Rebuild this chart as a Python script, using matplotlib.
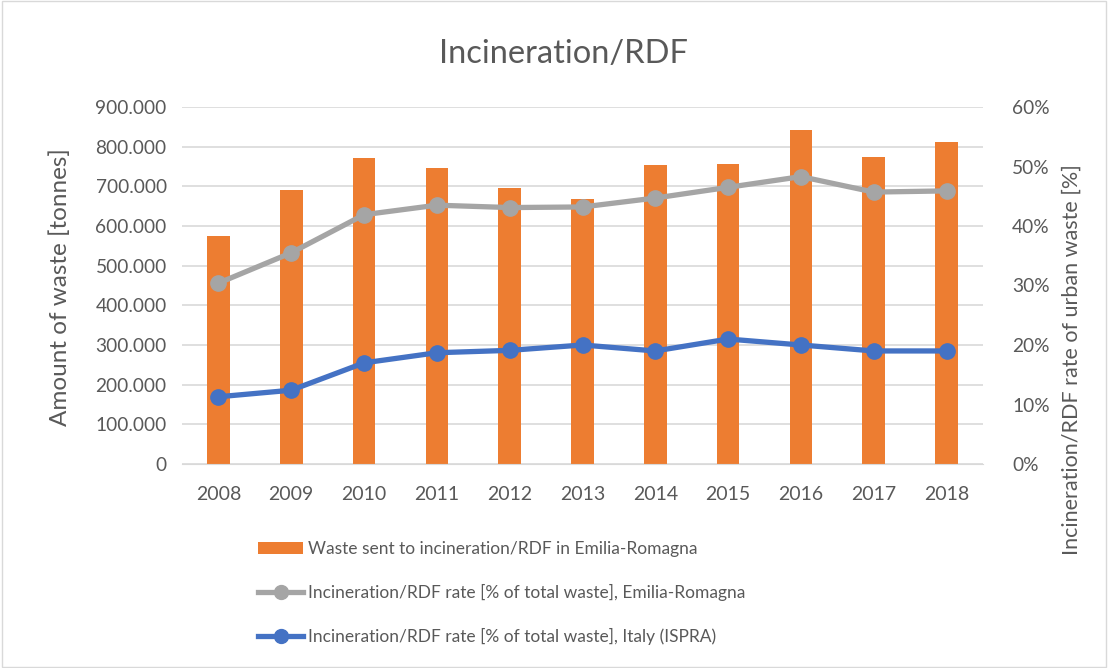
import matplotlib
matplotlib.use("Agg")
import matplotlib.pyplot as plt
from matplotlib.ticker import FuncFormatter, PercentFormatter
from matplotlib.patches import Rectangle

plt.rcParams['font.family'] = ['Lato', 'DejaVu Sans']

years = ["2008", "2009", "2010", "2011", "2012", "2013", "2014", "2015", "2016", "2017", "2018"]
waste_tonnes = [576000, 690000, 772000, 747000, 695000, 669000, 753000, 757000, 842000, 773000, 812000]
rate_er = [30.4, 35.5, 41.9, 43.5, 43.1, 43.2, 44.7, 46.5, 48.3, 45.7, 45.9]
rate_it = [11.3, 12.4, 17.0, 18.7, 19.1, 20.0, 19.0, 21.0, 20.0, 19.0, 19.0]

label_bar = "Waste sent to incineration/RDF in Emilia-Romagna"
label_er = "Incineration/RDF rate [% of total waste], Emilia-Romagna"
label_it = "Incineration/RDF rate [% of total waste], Italy (ISPRA)"

W, H = 1108, 668
fig = plt.figure(figsize=(W / 100, H / 100), dpi=100)
fig.patches.append(Rectangle((0.002, 0.002), 0.996, 0.996, transform=fig.transFigure,
                             fill=False, edgecolor='#d9d9d9', linewidth=1))

ax = fig.add_axes([182 / W, 1 - 464 / H, (983 - 182) / W, (464 - 107) / H])
ax2 = ax.twinx()

x = list(range(len(years)))
bars = ax.bar(x, waste_tonnes, width=0.31, color='#ED7D31', zorder=2, label=label_bar)
l1, = ax2.plot(x, rate_er, color='#A5A5A5', lw=3.8, marker='o', ms=11, label=label_er, zorder=3)
l2, = ax2.plot(x, rate_it, color='#4472C4', lw=3.8, marker='o', ms=11, label=label_it, zorder=3)

ax.set_xlim(-0.5, len(years) - 0.5)
ax.set_ylim(0, 900000)
ax.set_yticks(range(0, 900001, 100000))
ax.yaxis.set_major_formatter(FuncFormatter(lambda v, p: "0" if v == 0 else f"{int(v):,}".replace(",", ".")))
ax2.set_ylim(0, 60)
ax2.set_yticks(range(0, 61, 10))
ax2.yaxis.set_major_formatter(PercentFormatter(decimals=0))

ax.set_xticks(x)
ax.set_xticklabels(years)
ax.grid(axis='y', color='#d9d9d9', lw=1.2, zorder=0)
ax.set_axisbelow(True)
for a in (ax, ax2):
    for s in a.spines.values():
        s.set_visible(False)
    a.tick_params(length=0, labelsize=13.8, colors='#595959')
ax.spines['bottom'].set_visible(True)
ax.spines['bottom'].set_color('#d9d9d9')
ax.tick_params(axis='x', pad=16, labelsize=14)
ax.tick_params(axis='y', pad=11)
ax2.tick_params(axis='y', pad=21)

fig.text(563 / W, 1 - 54 / H, "Incineration/RDF", ha='center', va='center', fontsize=23.5, color='#595959')
fig.text(60 / W, 1 - 287 / H, "Amount of waste [tonnes]", rotation=90, ha='center', va='center',
         fontsize=17.5, color='#595959')
fig.text(1072 / W, 1 - 360 / H, "Incineration/RDF rate of urban waste [%]", rotation=90, ha='center',
         va='center', fontsize=15.5, color='#595959')

leg = fig.legend(handles=[bars, l1, l2], labels=[label_bar, label_er, label_it],
                 loc='upper left', bbox_to_anchor=(258 / W, 1 - 541 / H), frameon=False,
                 fontsize=12.5, labelcolor='#595959', labelspacing=1.55, handlelength=2.6,
                 handletextpad=0.3, borderpad=0, borderaxespad=0)
for h in leg.legend_handles[1:]:
    h.set_markersize(10)

fig.savefig("out.png", dpi=100)
